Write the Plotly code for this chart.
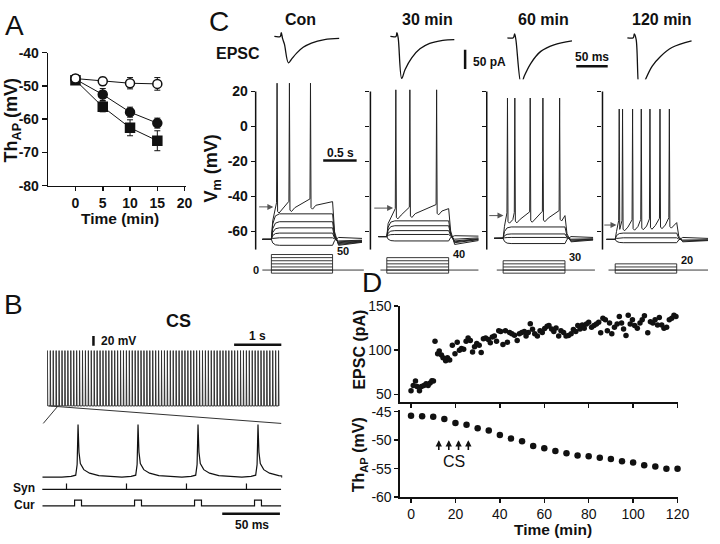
import plotly.graph_objects as go

W, H = 720, 544
FONT = "Arial, 'Liberation Sans', Helvetica, sans-serif"
INK = "#111111"

# A: AP threshold during the 15 min of conditioning
a_time = [0, 5, 10, 15]
a_ctrl = [-47.8, -48.6, -49.2, -49.4]
a_ctrl_err = [1.2, 1.2, 1.7, 1.9]
a_circ = [-48.0, -52.6, -57.9, -61.2]
a_circ_err = [1.0, 1.8, 1.5, 1.5]
a_sq = [-48.3, -56.3, -62.6, -66.5]
a_sq_err = [1.0, 1.5, 2.4, 3.0]

# B: conditioning stimulus (CS) train + expanded view
cs_n_spikes = 80
cs_period_s = 0.062
cs_rest_mv = -65
cs_peak_mv = 49
b_spike_ms = [31, 83, 135, 187]
b_syn_ms = [21, 73, 125, 177]
b_cur_ms = [28, 80, 132, 184]
b_cur_width_ms = 6
b_trace_end_ms = 207
ap_dt_ms = [-14, -6, -2, -0.8, 0, 0.8, 2, 5, 10, 18, 30]
ap_mv = [-65, -63.5, -61, -40, 40, -15, -38, -50, -57, -62, -64.5]

# C: EPSCs (ms, pA)
c_labels = ["Con", "30 min", "60 min", "120 min"]
epsc_ms = [
    [0, 9.4, 11, 13, 16, 22.4, 27.6, 35.4, 45.8, 58.9, 79.7, 103],
    [0, 8.9, 10.4, 12.5, 18, 23.4, 33.9, 47, 62.5, 83.3, 101.6],
    [0, 9.4, 11.5, 13.5, 21.9, 27, 37.5, 53, 74, 102.6],
    [0, 9.4, 11, 14, 19.8, 29.2, 39.5, 52.6, 70.8, 102],
]
epsc_pa = [
    [0, 0, 10, -5, -20, -68, -58, -43, -28, -17, -8, -5],
    [0, 0, 10, -5, -108, -85, -55, -32, -18, -10, -8],
    [0, 0, 10, -5, -120, -98, -65, -35, -18, -8],
    [0, 0, 10, -5, -145, -106, -73, -48, -25, -8],
]

# C: voltage responses to current steps (s, mV)
vm_t_start = [0.10, 0.12, 0.11, 0.06]
vm_t_on = [0.235, 0.245, 0.245, 0.19]
vm_t_off = [1.15, 1.17, 1.17, 1.11]
vm_t_end = [1.59, 1.62, 1.59, 1.58]
vm_rest = [-64.6, -63.0, -64.0, -64.6]
vm_sub_levels = [[-68, -63.7, -61, -58, -54.5, -50], [-65.5, -61.8, -59.6, -56.8, -54],
                 [-67, -63.5, -61.5, -57.5], [-66.5, -63.7, -61]]
vm_sub_after = [[-63.5, -65.5, -66, -66.5, -67, -67.5], [-62.5, -64.5, -65.5, -66, -66.5],
                [-63, -64.5, -65, -65.5], [-63.5, -65, -65.5]]
vm_fire_start = [-47, -50.5, -52.5, -57]
vm_fire_end = [-43, -47, -51, -55]
vm_fire_after = [-68, -67.5, -66, -66]
vm_spike_s = [[0.32, 0.505, 0.82], [0.38, 0.59, 0.99], [0.31, 0.42, 0.65, 0.84, 1.09],
              [0.25, 0.30, 0.45, 0.58, 0.71, 0.86, 1.0]]
vm_spike_peak = [24.8, 21, 16.3, 10]
vm_arrow_mv = [-46, -46.7, -51, -56.4]
vm_arrow_s = [(0.03, 0.265), (0.035, 0.34), (0.015, 0.25), (0.005, 0.21)]
step_pa = [[-10, 0, 10, 20, 30, 40, 50], [-10, 0, 10, 20, 30, 40], [-10, 0, 10, 20, 30], [-10, 0, 10, 20]]
step_base_s = [(0.10, 1.62), (0.15, 1.62), (0.15, 1.62), (0.09, 1.58)]

# D: EPSC amplitude and AP threshold over time
epsc_time_min = [0, 1, 2, 2.7, 3.8, 4.7, 5.8, 6.8, 7.7, 8.6,
                 9.4, 10.1, 10.8, 12, 12.7, 13.7, 14.4, 15.6, 16.4, 17.4,
                 18.6, 19.8, 20.8, 21.8, 22.7, 23.7, 24.8, 25.7, 26.7, 27.7,
                 28.6, 29.6, 30.7, 31.6, 32.6, 33.6, 34.8, 35.7, 36.6, 37.5,
                 38.5, 39.5, 40.4, 41.4, 42.5, 43.4, 44.4, 45.4, 46.6, 47.8,
                 48.8, 49.9, 51, 51.8, 52.8, 53.7, 54.7, 55.7, 56.9, 58.1,
                 59.1, 60.2, 61.3, 62.1, 63.3, 64.3, 65.3, 66.5, 67.5, 68.7,
                 69.8, 70.9, 72.1, 73.1, 74.2, 75.1, 76.1, 77.1, 78, 79,
                 80, 81.3, 82.4, 83.5, 84.5, 85.4, 86.4, 87.5, 88.4, 89.4,
                 90.4, 91.6, 92.8, 93.8, 94.8, 95.7, 96.8, 97.8, 98.7, 99.7,
                 100.7, 101.9, 103.1, 104.1, 105.1, 106.6, 107.8, 108.9, 109.9, 111,
                 111.8, 112.9, 113.9, 115.1, 116.3, 117.4, 118.4, 119.3]
epsc_amp_pa = [54, 60, 65, 59, 54, 59, 60, 62, 60, 63,
               65.5, 65, 110, 96, 99, 94.5, 91.5, 88, 91.5, 89,
               105.5, 96, 109, 100, 102, 101, 110, 113.7, 111, 98,
               104, 107.5, 105.5, 97.5, 113, 113.7, 112, 108.5, 115, 116,
               110, 122, 121, 106.5, 122, 109, 120, 118.5, 117, 111,
               118.5, 120, 121, 116, 120, 130, 123.7, 118.5, 116, 122,
               120, 124.5, 127, 128, 124, 121, 125, 116, 122, 120,
               116, 116.7, 118.5, 123.3, 121, 127.8, 124, 128.5, 124.8, 129.6,
               131.5, 126, 127.8, 129.6, 131.5, 119.6, 136, 134.4, 122, 130.7,
               118.5, 126, 129.6, 138, 130.7, 124, 116.7, 139.6, 129.6, 134.4,
               127.8, 124.8, 130.7, 134.4, 139, 119.6, 132.2, 130.7, 134.4, 128.5,
               137, 128.5, 124.8, 126, 134.4, 136, 139.6, 138]
th_time_min = [0, 5, 10, 15, 20, 25, 30, 35, 40, 45, 50, 55, 60,
               65, 70, 75, 80, 85, 90, 95, 100, 105, 110, 115, 120]
th_mv = [-45.7, -45.8, -45.9, -46.3, -47.0, -47.3, -47.9, -48.3, -49.1, -49.7, -50.2, -51.0, -51.4,
         -51.9, -52.3, -52.7, -52.8, -53.1, -53.3, -53.7, -53.9, -54.4, -54.6, -55.0, -55.0]
cs_arrow_min = [12.5, 17, 21.4, 25.8]

# ---------------------------------------------------------------
layout = dict(width=W, height=H, margin=dict(l=0, r=0, t=0, b=0),
              paper_bgcolor="white", plot_bgcolor="white", showlegend=False,
              font=dict(family=FONT, color=INK))
traces, shapes, annotations = [], [], []


def axes(n, xd, yd, xr, yr, xkw=None, ykw=None):
    sx = "" if n == 1 else str(n)
    base = dict(showgrid=False, zeroline=False, fixedrange=True)
    xa = dict(base, domain=[xd[0] / W, xd[1] / W], range=xr, anchor="y" + sx, visible=False)
    ya = dict(base, domain=[1 - yd[1] / H, 1 - yd[0] / H], range=yr, anchor="x" + sx, visible=False)
    if xkw:
        xa.update(visible=True, **xkw)
    if ykw:
        ya.update(visible=True, **ykw)
    layout["xaxis" + sx] = xa
    layout["yaxis" + sx] = ya
    return "x" + sx, "y" + sx


def axstyle(vals, labels=None, size=14, bold=False, **kw):
    d = dict(showline=True, linecolor=INK, linewidth=1.5, ticks="outside", ticklen=5,
             tickwidth=1.5, tickcolor=INK, tickvals=vals,
             ticktext=labels if labels is not None else [str(v) for v in vals],
             tickfont=dict(size=size, color=INK, family=FONT, weight="bold" if bold else "normal"))
    d.update(kw)
    return d


def line(xr, yr, x, y, width=1.0, color=INK, shape="linear"):
    traces.append(go.Scatter(x=x, y=y, xaxis=xr, yaxis=yr, mode="lines", hoverinfo="skip",
                             line=dict(color=color, width=width, shape=shape)))


def text(x, y, s, size=12, xanchor="center", yanchor="middle", angle=0, bold=True):
    annotations.append(dict(x=x / W, y=1 - y / H, xref="paper", yref="paper",
                            text=f"<b>{s}</b>" if bold else s, showarrow=False,
                            font=dict(size=size, family=FONT, color=INK),
                            xanchor=xanchor, yanchor=yanchor, textangle=angle))


# ---------------- A ----------------
xa, ya = axes(1, (49, 189.4), (46, 183), [-5, 20.3], [-80, -40],
              axstyle([0, 5, 10, 15, 20], bold=True, ticklen=4),
              axstyle([-80, -70, -60, -50, -40], ["-80", "-70", "-60", "-50", "-40"], bold=True))
for vals, errs, sym, fill in [(a_sq, a_sq_err, "square", INK), (a_circ, a_circ_err, "circle", INK),
                              (a_ctrl, a_ctrl_err, "circle", "white")]:
    traces.append(go.Scatter(x=a_time, y=vals, xaxis=xa, yaxis=ya, mode="lines+markers",
                             line=dict(color=INK, width=1),
                             marker=dict(symbol=sym, size=9, color=fill, line=dict(color=INK, width=1.5)),
                             error_y=dict(type="data", array=errs, color=INK, thickness=1, width=3),
                             cliponaxis=False))
text(15, 18, "A", size=28, bold=False)
text(13, 115, "Th<sub>AP</sub> (mV)", size=18, angle=-90)
text(122, 217, "Time (min)", size=15.5)

# ---------------- B ----------------
xt, yt = axes(2, (48, 290), (335, 415), [0, 242 / 48], [-75, 85])
tx, ty = [], []
for k in range(cs_n_spikes):
    t = k * cs_period_s
    tx += [t, t + 0.004, t + 0.012]
    ty += [cs_rest_mv, cs_peak_mv, cs_rest_mv]
line(xt, yt, tx, ty, width=1, color="#333333")
line(xt, yt, [0.98, 0.98], [59, 79], width=2.5)           # 20 mV
line(xt, yt, [3.96, 4.96], [61, 61], width=2.5)           # 1 s

xe, ye = axes(3, (43, 287), (425, 486), [0, 208], [-70, 48])
ex, ey = [0], [cs_rest_mv]
for s in b_spike_ms:
    ex += [s + d for d in ap_dt_ms]
    ey += ap_mv
ex.append(b_trace_end_ms)
ey.append(-64.5)
line(xe, ye, ex, ey, width=1.2)

xs_, ys_ = axes(4, (43, 287), (488, 500), [0, 208], [-0.67, 1.33])
sx, sy = [-1], [0]
for s in b_syn_ms:
    sx += [s, s, s]
    sy += [0, 1, 0]
sx.append(b_trace_end_ms)
sy.append(0)
line(xs_, ys_, sx, sy, width=1.2)

xc, yc = axes(5, (43, 287), (503, 524), [0, 208], [-1.83, 1.67])
cx, cy = [0], [0]
for s in b_cur_ms:
    cx += [s, s, s + b_cur_width_ms, s + b_cur_width_ms]
    cy += [0, 1, 1, 0]
cx.append(b_trace_end_ms)
cy.append(0)
line(xc, yc, cx, cy, width=1.2)
line(xc, yc, [156, 206], [-1.33, -1.33], width=2.5)       # 50 ms

for (x0, y0, x1, y1) in [(59, 410, 44, 428), (50, 410, 286, 428)]:
    shapes.append(dict(type="line", xref="paper", yref="paper", x0=x0 / W, y0=1 - y0 / H,
                       x1=x1 / W, y1=1 - y1 / H, line=dict(color="#333333", width=1)))
text(14, 305, "B", size=28, bold=False)
text(182, 322, "CS", size=18)
text(101, 343, "20 mV", size=12, xanchor="left")
text(262, 338, "1 s", size=12)
text(38, 495, "Syn", size=12, xanchor="right")
text(38, 512, "Cur", size=12, xanchor="right")
text(256, 533, "50 ms", size=12)

# ---------------- C: EPSCs ----------------
epsc_x0 = [279, 397, 516, 638]
epsc_base = [29.3, 29.3, 30.7, 30.7]
epsc_ax = []
for i in range(4):
    right = min(epsc_x0[i] + 165 * 0.64, W)
    r = (right - epsc_x0[i]) / 0.64
    ex_, ey_ = axes(6 + i, (epsc_x0[i] - 5 * 0.64, right),
                    (epsc_base[i] - 8, epsc_base[i] + 64), [-5, r], [-160, 20])
    epsc_ax.append((ex_, ey_))
    line(ex_, ey_, epsc_ms[i], epsc_pa[i], width=1.3, shape="spline")
line(*epsc_ax[1], [118.75, 118.75], [-34, -84], width=2.5)   # 50 pA
line(*epsc_ax[2], [109.4, 159.4], [-73, -73], width=2.5)     # 50 ms
text(223, 14, "C", size=28, bold=False)
for lab, xx in zip(c_labels, [306, 435, 553, 673]):
    text(xx, 12, lab, size=16)
text(242, 47, "EPSC", size=16)
text(479, 56, "50 pA", size=12, xanchor="left")
text(602, 50, "50 ms", size=12)


# ---------------- C: voltage traces ----------------
def sub_trace(t0, t_on, t_off, t1, rest, level, after):
    d = level - rest
    xs = [t0, t_on, t_on + 0.02, t_on + 0.06, t_on + 0.12, t_off, t_off + 0.03, t_off + 0.09, t1]
    ys = [rest, rest, rest + 0.6 * d, rest + 0.92 * d, level, level, rest + 0.2 * d, after,
          (after + rest) / 2]
    return xs, ys


def fire_trace(t0, t_on, t_off, t1, rest, v0, v1, spikes, peak, after):
    def base(t):
        return v0 + (v1 - v0) * (t - t_on) / (t_off - t_on)
    xs = [t0, t_on, t_on + 0.02]
    ys = [rest, rest, rest + 0.6 * (v0 - rest)]
    nxt = spikes[1:] + [t_off]
    for s, n in zip(spikes, nxt):
        xs += [s - 0.008, s, s + 0.008]
        ys += [base(s) + 3, peak, base(s) - 2]
        for dt, dv in [(0.03, -3), (0.08, -1)]:
            if s + dt < n - 0.02:
                xs.append(s + dt)
                ys.append(base(s + dt) + dv)
    xs += [t_off, t_off + 0.03, t_off + 0.09, t1]
    ys += [v1, rest + 0.2 * (v1 - rest), after, (after + rest) / 2]
    return xs, ys


vm_x0 = [260, 376.7, 495, 612.7]
for i in range(4):
    right = min(vm_x0[i] + 110, W)
    xr_ = [0, (right - vm_x0[i]) / 68]
    yk = axstyle([-60, -40, -20, 0, 20], ["-60", "-40", "-20", "0", "20"], size=14, bold=True,
                 showline=False, ticklen=4, showticklabels=(i == 0))
    vx, vy = axes(10 + i, (vm_x0[i], right), (73.5, 249), xr_, [-70.5, 27], None, yk)
    shapes.append(dict(type="line", xref=vx + " domain", x0=0, x1=0, yref=vy, y0=-70.5, y1=20,
                       line=dict(color=INK, width=1.5)))
    for lv, af in zip(vm_sub_levels[i], vm_sub_after[i]):
        line(vx, vy, *sub_trace(vm_t_start[i], vm_t_on[i], vm_t_off[i], vm_t_end[i],
                                vm_rest[i], lv, af), width=1, color="#222222")
    line(vx, vy, *fire_trace(vm_t_start[i], vm_t_on[i], vm_t_off[i], vm_t_end[i], vm_rest[i],
                             vm_fire_start[i], vm_fire_end[i], vm_spike_s[i], vm_spike_peak[i],
                             vm_fire_after[i]), width=1, color="#222222")
    tail, tip = vm_arrow_s[i]
    annotations.append(dict(x=tip, y=vm_arrow_mv[i], ax=tail, ay=vm_arrow_mv[i], xref=vx, yref=vy,
                            axref=vx, ayref=vy, text="", showarrow=True, arrowhead=2,
                            arrowsize=1.2, arrowwidth=1, arrowcolor="#555555", standoff=0))
    if i == 0:
        line(vx, vy, [1.01, 1.51], [-19.4, -19.4], width=2.5)  # 0.5 s

    # current step protocol
    cx_, cy_ = axes(14 + i, (vm_x0[i], right), (252.4, 274.8), xr_, [-15, 55])
    lv = step_pa[i]
    px_, py_ = [], []
    for a in lv:
        px_ += [vm_t_on[i], vm_t_off[i], None]
        py_ += [a, a, None]
    px_ += [vm_t_on[i], vm_t_on[i], None, vm_t_off[i], vm_t_off[i], None,
            step_base_s[i][0], step_base_s[i][1]]
    py_ += [min(lv), max(lv), None, min(lv), max(lv), None, 0, 0]
    line(cx_, cy_, px_, py_, width=0.9, color="#222222")
    annotations.append(dict(x=vm_t_off[i] + 0.03, y=max(lv), xref=cx_, yref=cy_,
                            text=f"<b>{max(lv)}</b>", showarrow=False, xanchor="left",
                            yanchor="bottom", yshift=-4, font=dict(size=11, family=FONT, color=INK)))
    if i == 0:
        annotations.append(dict(x=step_base_s[i][0] - 0.02, y=0, xref=cx_, yref=cy_, text="<b>0</b>",
                                showarrow=False, xanchor="right",
                                font=dict(size=11, family=FONT, color=INK)))

text(216, 165, "V<sub>m</sub> (mV)", size=18, angle=-90)
text(346, 149, "0.5 s", size=12)

# ---------------- D ----------------
xd = (406.7, 689)
ticks_t = [0, 20, 40, 60, 80, 100, 120]
x18, y18 = axes(18, xd, (307, 406), [-5, 120], [41.3, 150],
                axstyle(ticks_t, showticklabels=False, ticklen=4),
                axstyle([50, 100, 150], ticklen=4))
traces.append(go.Scatter(x=epsc_time_min, y=epsc_amp_pa, xaxis=x18, yaxis=y18, mode="markers",
                         marker=dict(color=INK, size=5.5), cliponaxis=False))
x19, y19 = axes(19, xd, (414, 504), [-5, 120], [-60, -44.67],
                axstyle(ticks_t, ticklen=4),
                axstyle([-60, -55, -50, -45], ["-60", "-55", "-50", "-45"], ticklen=4))
traces.append(go.Scatter(x=th_time_min, y=th_mv, xaxis=x19, yaxis=y19, mode="markers",
                         marker=dict(color=INK, size=6.5), cliponaxis=False))
for t in cs_arrow_min:
    annotations.append(dict(x=t, y=-50.0, ax=t, ay=-52.0, xref=x19, yref=y19, axref=x19, ayref=y19,
                            text="", showarrow=True, arrowhead=2, arrowsize=0.8, arrowwidth=1.6,
                            arrowcolor=INK, standoff=0))
text(462, 467, "CS", size=16, bold=False)
text(378, 283, "D", size=28, bold=False)
text(366, 352, "EPSC (pA)", size=16, angle=-90)
text(366, 460, "Th<sub>AP</sub> (mV)", size=16, angle=-90)
text(562, 537, "Time (min)", size=15.5)

layout["shapes"] = shapes
layout["annotations"] = annotations
fig = go.Figure(data=traces, layout=layout)
fig.write_html("out.html", config={"displayModeBar": False, "staticPlot": True},
               post_script="document.body.style.margin='0';document.body.style.overflow='hidden';")
